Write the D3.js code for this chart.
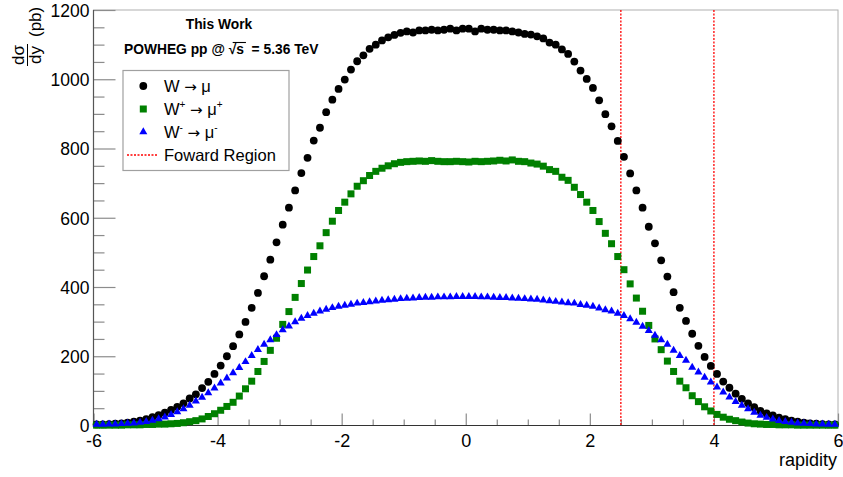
<!DOCTYPE html>
<html>
<head>
<meta charset="utf-8">
<script src="https://cdn.jsdelivr.net/npm/d3@7"></script>
<style>
  html, body { margin: 0; padding: 0; background: #fff; }
  svg { display: block; font-family: "Liberation Sans", Arial, Helvetica, sans-serif; }
</style>
</head>
<body>
<svg id="chart" width="843" height="477"></svg>
<script>
// ---------------- data ----------------
const binLow = -6, binWidth = 0.1, nBins = 120;
const rapidity = d3.range(nBins).map(i => +(binLow + binWidth * (i + 0.5)).toFixed(2));

const wMu = [
  3,3,4,5,6,8,11,14,18,24,
  30,37,45,54,64,78,90,108,126,149,
  173,200,229,263,299,340,383,431,479,529,
  580,629,679,729,773,823,860,905,941,972,
  999,1028,1052,1069,1088,1100,1112,1121,1128,1134,
  1138,1135,1141,1141,1143,1141,1143,1146,1141,1146,
  1146,1138,1146,1143,1143,1141,1141,1138,1135,1131,
  1129,1124,1118,1106,1100,1086,1073,1051,1025,1001,
  975,939,899,864,822,776,728,679,629,574,
  526,477,430,385,340,302,265,230,198,172,
  149,127,109,92,77,64,53,42,35,29,
  23,18,14,11,8,6,5,4,3,3
];
const wPlus = [
  1,1,1,1,1,2,2,2,3,3,
  4,4,5,6,8,11,14,19,26,34,
  44,55,67,85,106,128,156,185,217,252,
  292,329,370,410,449,488,519,557,590,621,
  645,669,691,707,722,734,743,750,756,760,
  762,763,764,763,765,763,762,762,763,762,
  761,763,762,763,764,766,764,767,763,762,
  758,755,749,739,734,717,708,688,667,645,
  621,589,555,525,488,450,409,368,330,289,
  250,219,186,156,128,109,86,69,54,42,
  32,24,18,14,10,7,5,4,3,3,
  2,2,2,1,1,1,1,1,1,1
];
const wMinus = [
  3,3,4,4,5,6,7,9,11,15,
  19,24,31,39,48,58,70,81,94,108,
  122,137,152,167,184,202,219,234,247,262,
  276,287,299,309,317,324,330,335,340,344,
  347,350,353,355,357,359,361,363,364,366,
  367,368,369,370,370,371,371,371,372,372,
  372,372,371,371,370,369,369,368,367,366,
  365,364,362,360,358,356,354,353,349,347,
  344,339,334,330,324,317,308,298,286,274,
  260,247,234,217,202,188,168,154,139,125,
  111,96,82,69,58,48,38,29,23,18,
  14,11,9,7,6,5,4,4,3,3
];
const forwardRegion = [2.5, 4.0];
const xTicksMajor = [-6, -4, -2, 0, 2, 4, 6];
const yTicksMajor = [0, 200, 400, 600, 800, 1000, 1200];
const legendLabels = ["W", "Foward Region"];

// ---------------- layout ----------------
const svg = d3.select("#chart");
const L = 93.5, R = 838, T = 10, B = 425.5;
const x = d3.scaleLinear().domain([-6, 6]).range([L, R]);
const y = d3.scaleLinear().domain([0, 1200]).range([B, T]);

// frame (top/right light)
svg.append("rect").attr("x", L).attr("y", T).attr("width", R - L).attr("height", B - T)
  .attr("fill", "none").attr("stroke", "#b0b0b0").attr("stroke-width", 1);

// minor ticks
const xMinor = d3.range(-6, 6.001, 0.5).filter(v => Math.abs(v / 2 - Math.round(v / 2)) > 1e-6);
const yMinor = d3.range(0, 1200.001, 50).filter(v => v % 200 !== 0);

const xAxisMinor = d3.axisBottom(x).tickValues(xMinor).tickSizeInner(-6).tickSizeOuter(0).tickFormat("");
const xAxisMajor = d3.axisBottom(x).tickValues(xTicksMajor).tickSizeInner(-12).tickSizeOuter(0)
  .tickPadding(9).tickFormat(d3.format("d"));
const yAxisMinor = d3.axisLeft(y).tickValues(yMinor).tickSizeInner(-11).tickSizeOuter(0).tickFormat("");
const yAxisMajor = d3.axisLeft(y).tickValues(yTicksMajor).tickSizeInner(-22).tickSizeOuter(0)
  .tickPadding(4).tickFormat(d3.format("d"));

function styleAxis(g) {
  g.select(".domain").remove();
  g.selectAll(".tick line").attr("stroke", "#8c8c8c").attr("stroke-width", 1.2);
  g.selectAll(".tick text").attr("fill", "#000").attr("font-size", "17.5px")
    .attr("font-family", "Liberation Sans, Arial, sans-serif");
}
svg.append("g").attr("transform", `translate(0,${B})`).call(xAxisMinor).call(styleAxis);
svg.append("g").attr("transform", `translate(0,${B})`).call(xAxisMajor).call(styleAxis)
  .selectAll(".tick text").attr("font-size", "18px").text(d => d < 0 ? "-" + Math.abs(d) : d);
svg.append("g").attr("transform", `translate(${L},0)`).call(yAxisMinor).call(styleAxis);
svg.append("g").attr("transform", `translate(${L},0)`).call(yAxisMajor).call(styleAxis)
  .selectAll(".tick text").attr("dy", "0.36em");

// axis lines
svg.append("line").attr("x1", L).attr("x2", L).attr("y1", T).attr("y2", B)
  .attr("stroke", "#555").attr("stroke-width", 1.2);
svg.append("line").attr("x1", L).attr("x2", R).attr("y1", B).attr("y2", B)
  .attr("stroke", "#333").attr("stroke-width", 1.2);

// x title
svg.append("text").attr("x", 837).attr("y", 466).attr("text-anchor", "end")
  .attr("font-size", "18px").text("rapidity");

// y title (rotated fraction)
const yt = svg.append("g").attr("transform", "translate(27,67) rotate(-90)");
yt.append("text").attr("x", 12).attr("y", -3).attr("text-anchor", "middle")
  .attr("font-size", "17px").text("dσ");
yt.append("text").attr("x", 12).attr("y", 14).attr("text-anchor", "middle")
  .attr("font-size", "17px").text("dy");
yt.append("line").attr("x1", 1).attr("x2", 23).attr("y1", 0.5).attr("y2", 0.5)
  .attr("stroke", "#000").attr("stroke-width", 1);
yt.append("text").attr("x", 30).attr("y", 13.5).attr("font-size", "17px").text("(pb)");

// markers
const data = rapidity.map((r, i) => ({ r, a: wMu[i], p: wPlus[i], m: wMinus[i] }));
const plot = svg.append("g");
plot.selectAll("line.fwd").data(forwardRegion).join("line").attr("class", "fwd")
  .attr("x1", d => x(d)).attr("x2", d => x(d)).attr("y1", T).attr("y2", B)
  .attr("stroke", "#ff0000").attr("stroke-width", 1.3).attr("stroke-dasharray", "2,1.5");

const cR = 3.9, sq = 7;
plot.selectAll("circle.wmu").data(data).join("circle").attr("class", "wmu")
  .attr("cx", d => x(d.r)).attr("cy", d => y(d.a)).attr("r", cR).attr("fill", "#000");
plot.selectAll("rect.wp").data(data).join("rect").attr("class", "wp")
  .attr("x", d => x(d.r) - sq / 2).attr("y", d => y(d.p) - sq / 2).attr("width", sq).attr("height", sq)
  .attr("fill", "#008000");
const tri = d3.symbol().type(d3.symbolTriangle).size(28);
plot.selectAll("path.wm").data(data).join("path").attr("class", "wm")
  .attr("transform", d => `translate(${x(d.r)},${y(d.m)})`).attr("d", tri).attr("fill", "#0000ff");

// texts
svg.append("text").attr("x", 219).attr("y", 29).attr("text-anchor", "middle")
  .attr("font-weight", "bold").attr("font-size", "13.8px").text("This Work");
{
  const baseY = 54;
  let cx = 124;
  const parts = ["POWHEG pp @ ", "√", "s", "  = 5.36 TeV"];
  const nodes = [];
  parts.forEach(p => {
    const t = svg.append("text").attr("x", cx).attr("y", baseY).attr("font-weight", "bold")
      .attr("font-size", "13.8px").attr("xml:space", "preserve").style("white-space", "pre").text(p);
    nodes.push({ t, x0: cx });
    cx += t.node().getComputedTextLength();
  });
  const sx0 = nodes[1].x0 + 4, sx1 = nodes[3].x0 + 2;
  svg.append("line").attr("x1", sx0).attr("x2", sx1).attr("y1", baseY - 11.5).attr("y2", baseY - 11.5)
    .attr("stroke", "#000").attr("stroke-width", 1.1);
}

// legend
const lg = svg.append("g");
lg.append("rect").attr("x", 123).attr("y", 70.5).attr("width", 166).attr("height", 100)
  .attr("fill", "#fff").attr("stroke", "#a0a0a0").attr("stroke-width", 1.2);
const rowY = [86, 109, 132, 155];
const mx = 143.3, tx = 164;
lg.append("circle").attr("cx", mx).attr("cy", rowY[0]).attr("r", cR).attr("fill", "#000");
lg.append("rect").attr("x", mx - sq / 2).attr("y", rowY[1] - sq / 2).attr("width", sq).attr("height", sq).attr("fill", "#008000");
lg.append("path").attr("transform", `translate(${mx},${rowY[2]})`).attr("d", tri).attr("fill", "#0000ff");
lg.append("line").attr("x1", 127).attr("x2", 158).attr("y1", rowY[3]).attr("y2", rowY[3])
  .attr("stroke", "#ff0000").attr("stroke-width", 1.3).attr("stroke-dasharray", "2,1.5");

function legendText(i, sup1, sup2) {
  const t = lg.append("text").attr("x", tx).attr("y", rowY[i] + 6).attr("font-size", "16.5px");
  t.append("tspan").text(legendLabels[0]);
  if (sup1) t.append("tspan").attr("dy", -7).attr("font-size", "10px").text(sup1);
  t.append("tspan").attr("dy", sup1 ? 7 : 0).text(" ");
  t.append("tspan").attr("font-family", "DejaVu Sans").attr("font-size", "15px").text("→");
  t.append("tspan").text(" μ");
  if (sup2) t.append("tspan").attr("dy", -7).attr("font-size", "10px").text(sup2);
}
legendText(0, null, null);
legendText(1, "+", "+");
legendText(2, "-", "-");
lg.append("text").attr("x", tx).attr("y", rowY[3] + 6).attr("font-size", "16.5px").text(legendLabels[1]);
</script>
</body>
</html>
